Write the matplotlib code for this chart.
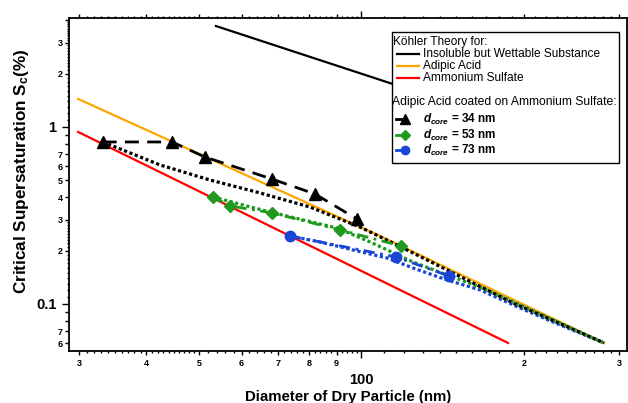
import numpy as np
import matplotlib
matplotlib.use("Agg")
import matplotlib.pyplot as plt
from matplotlib.ticker import FixedLocator, FuncFormatter
from matplotlib.patches import Rectangle

plt.rcParams['font.family'] = ['Liberation Sans', 'DejaVu Sans']
plt.rcParams['mathtext.fontset'] = 'custom'
plt.rcParams['mathtext.it'] = 'Liberation Sans:italic:bold'
plt.rcParams['mathtext.rm'] = 'Liberation Sans:bold'

# Köhler theory curves (diameter in nm, Sc in %)
insol_d = [53.8, 250.0]
insol_s = [3.72, 0.80]
adipic_d = [29.9, 108.3, 281.4]
adipic_s = [1.44, 0.242, 0.0602]
amsul_d = [29.9, 186.9]
amsul_s = [0.937, 0.0602]

# measured, adipic acid coated on ammonium sulfate
d34_d = [33.2, 44.6, 51.3, 68.3, 82.1, 98.1]
d34_s = [0.823, 0.823, 0.677, 0.508, 0.418, 0.302]
d53_d = [53.1, 57.1, 68.3, 91.3, 118.4]
d53_s = [0.402, 0.358, 0.327, 0.262, 0.2127]
d73_d = [73.8, 115.9, 145.3]
d73_s = [0.242, 0.1843, 0.1439]

# theory for coated particles
th34_d = [33.2, 42.4, 52.4, 64.9, 80.3, 99.4, 116.4, 144.1, 190.9, 281.4]
th34_s = [0.823, 0.610, 0.502, 0.424, 0.353, 0.272, 0.2155, 0.1556, 0.1013, 0.0602]
th53_d = [53.1, 67.7, 90.1, 103.8, 124.6, 144.1, 165.9, 196.7, 281.4]
th53_s = [0.402, 0.331, 0.2688, 0.224, 0.1727, 0.1458, 0.1247, 0.0988, 0.0602]
th73_d = [73.8, 83.8, 96.5, 111.5, 124.6, 144.1, 165.9, 196.7, 226.3, 281.4]
th73_s = [0.242, 0.224, 0.2019, 0.1819, 0.1597, 0.1366, 0.12, 0.0949, 0.0791, 0.0602]

ORANGE = '#ffa500'
RED = '#ff0000'
GREEN = '#1f9a1f'
BLUE = '#1a46d6'

fig = plt.figure(figsize=(6.28, 4.03), dpi=100)
ax = fig.add_axes([69 / 628, 52 / 403, 558 / 628, 333 / 403])
ax.set_xscale('log')
ax.set_yscale('log')

ax.plot(insol_d, insol_s, color='black', lw=1.6, zorder=2)
ax.plot(adipic_d, adipic_s, color=ORANGE, lw=1.6, zorder=2)
ax.plot(amsul_d, amsul_s, color=RED, lw=1.6, zorder=2)

dot = (0, (1, 0.8))
ax.plot(th73_d, th73_s, color=BLUE, lw=2.3, ls=dot, zorder=3)
ax.plot(th53_d, th53_s, color=GREEN, lw=2.3, ls=dot, zorder=3)
ax.plot(th34_d, th34_s, color='black', lw=2.3, ls=dot, zorder=3)

ax.plot(d34_d, d34_s, color='black', lw=2.0, ls=(0, (5, 3)), marker='^', ms=8, zorder=4)
ax.plot(d53_d, d53_s, color=GREEN, lw=2.0, ls=(0, (4, 2, 1, 2)), marker='D', ms=6.5, zorder=4)
ax.plot(d73_d, d73_s, color=BLUE, lw=2.0, ls=(0, (4, 2, 1, 2)), marker='o', ms=7.5, zorder=4)

ax.set_xlim(28.75, 310.4)
ax.set_ylim(0.0542, 4.13)

# ticks: big major, medium labelled minor, small unlabelled sub-minor
x_mid = [30, 40, 50, 60, 70, 80, 90, 200, 300]
x_small = list(range(31, 50)) + list(range(52, 100, 2)) + list(range(110, 200, 10)) + list(range(210, 300, 10))
x_small = [v for v in x_small if v not in x_mid]
y_lab = [0.06, 0.07, 0.2, 0.3, 0.4, 0.5, 0.6, 0.7, 2, 3]
y_mid = y_lab + [0.08, 0.09, 0.8, 0.9, 4]
y_small = [round(0.1 + 0.01 * i, 3) for i in range(1, 20) if i != 10] + \
          [round(1 + 0.1 * i, 2) for i in range(1, 30) if i not in (10, 20)]

ax.xaxis.set_major_locator(FixedLocator([100]))
ax.xaxis.set_minor_locator(FixedLocator(x_mid + x_small))
ax.yaxis.set_major_locator(FixedLocator([0.1, 1]))
ax.yaxis.set_minor_locator(FixedLocator(y_mid + y_small))

def first_digit(v, pos):
    return str(int(round(v / 10 ** np.floor(np.log10(v) + 1e-9))))

ax.xaxis.set_major_formatter(FuncFormatter(lambda v, p: '100'))
ax.yaxis.set_major_formatter(FuncFormatter(lambda v, p: '1' if v > 0.5 else '0.1'))
ax.xaxis.set_minor_formatter(FuncFormatter(lambda v, p: first_digit(v, p) if any(abs(v - m) < 1e-6 for m in x_mid) else ''))
ax.yaxis.set_minor_formatter(FuncFormatter(lambda v, p: first_digit(v, p) if any(abs(v - m) < 1e-6 for m in y_lab) else ''))

ax.tick_params(which='both', direction='out', top=True, right=False, width=1.0)
ax.tick_params(axis='x', which='major', length=5, labelsize=10.5, pad=10.5)
ax.tick_params(axis='y', which='major', length=5, labelsize=10.5, pad=4)
ax.tick_params(axis='x', which='minor', length=3, labelsize=6.5, pad=2.5)
ax.tick_params(axis='y', which='minor', length=3, labelsize=6.5, pad=1.5)
for lab in ax.get_xticklabels(which='both') + ax.get_yticklabels(which='both'):
    lab.set_fontweight('bold')

fig.canvas.draw()
for axis, small in ((ax.xaxis, x_small), (ax.yaxis, y_small)):
    locs = axis.get_minorticklocs()
    for t, v in zip(axis.get_minor_ticks(len(locs)), locs):
        if any(abs(v - s) < 1e-6 for s in small):
            t.tick1line.set_markersize(1.5)
            t.tick2line.set_markersize(1.5)
        t.label1.set_fontweight('bold')
    for t in axis.get_major_ticks():
        t.label1.set_fontweight('bold')

for s in ax.spines.values():
    s.set_linewidth(1.3)

ax.set_xlabel('Diameter of Dry Particle (nm)', fontsize=10.8, fontweight='bold')
ax.xaxis.set_label_coords(0.5, -0.116)
ax.set_ylabel(r'Critical Supersaturation S$_\mathregular{c}$(%)', fontsize=12.3, fontweight='bold')
ax.yaxis.set_label_coords(-0.068, 0.54)

# legend box drawn by hand to get the two-section layout
def fx(px):
    return (px - 69) / 558

def fy(py):
    return 1 - (py - 18) / 333

ax.add_patch(Rectangle((fx(392), fy(163)), fx(619) - fx(392), fy(32) - fy(163),
                       transform=ax.transAxes, facecolor='white', edgecolor='black',
                       lw=1.0, zorder=10))
ax.text(fx(393), fy(42), 'Köhler Theory for:', transform=ax.transAxes, fontsize=8.6,
        va='center', ha='left', zorder=11)
for py, col, lab in ((54, 'black', 'Insoluble but Wettable Substance'),
                     (66, ORANGE, 'Adipic Acid'),
                     (78, RED, 'Ammonium Sulfate')):
    ax.plot([fx(397), fx(419)], [fy(py), fy(py)], color=col, lw=1.6,
            transform=ax.transAxes, zorder=11)
    ax.text(fx(423), fy(py), lab, transform=ax.transAxes, fontsize=8.6,
            va='center', ha='left', zorder=11)
ax.text(fx(392), fy(102), 'Adipic Acid coated on Ammonium Sulfate:', transform=ax.transAxes,
        fontsize=8.7, va='center', ha='left', zorder=11)
for py, col, mk, ms, lab in ((119, 'black', '^', 6.5, r'$d_{core}$ = 34 nm'),
                             (135, GREEN, 'D', 5, r'$d_{core}$ = 53 nm'),
                             (150, BLUE, 'o', 6, r'$d_{core}$ = 73 nm')):
    ax.plot([fx(396), fx(405)], [fy(py), fy(py)], color=col, lw=2.0,
            transform=ax.transAxes, zorder=11)
    ax.plot([fx(405)], [fy(py)], color=col, marker=mk, ms=ms,
            transform=ax.transAxes, zorder=11)
    ax.text(fx(423), fy(py), lab, transform=ax.transAxes, fontsize=8.5, fontweight='bold',
            va='center', ha='left', zorder=11)

fig.savefig('out.png', dpi=100)
